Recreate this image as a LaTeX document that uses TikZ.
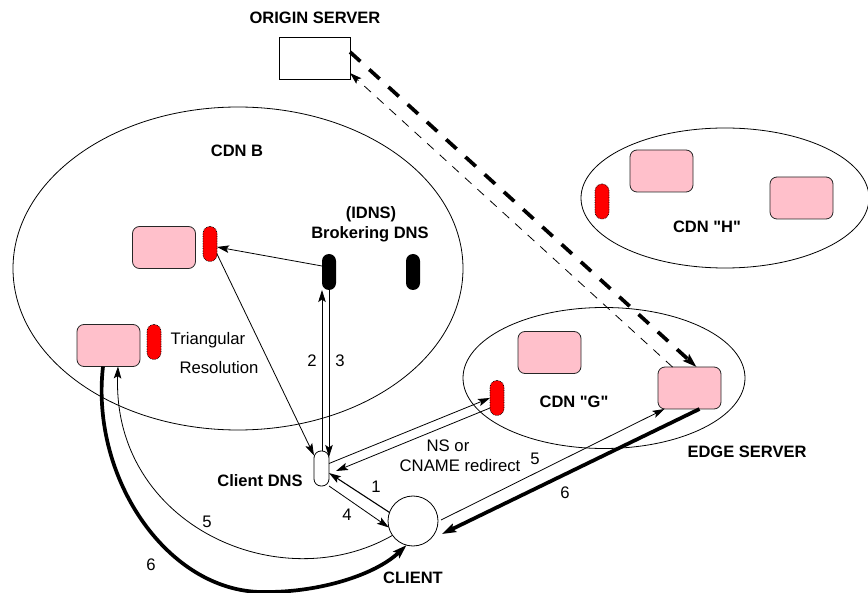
\documentclass[tikz,border=0pt]{standalone}
\usepackage{fontspec}
\setmainfont{Liberation Sans}
\newfontfamily\labelfont{Liberation Sans}
\usetikzlibrary{arrows.meta,shapes.geometric}
\definecolor{pinkbox}{HTML}{FFC0CB}
\tikzset{
  x=1pt,y=-1pt,
  every node/.style={font=\labelfont\fontsize{16.7}{19}\selectfont,inner sep=0pt,outer sep=0pt},
  boldlabel/.style={font=\labelfont\fontsize{16.5}{19}\selectfont\bfseries},
  cloud/.style={ellipse,draw,line width=0.8pt},
  pinkserver/.style={draw=black!85,line width=0.8pt,fill=pinkbox,rounded corners=7pt,minimum width=63pt,minimum height=42pt},
  redpill/.style={draw=black,densely dotted,line width=0.7pt,fill=red,rounded corners=7pt,minimum width=14pt,minimum height=35pt},
  blackpill/.style={fill=black,rounded corners=7pt,minimum width=14pt,minimum height=36pt},
  conn/.style={line width=0.8pt,-{Stealth[length=12pt,width=7.5pt,inset=2.5pt]}},
  heavy/.style={line width=3.7pt,-{Stealth[length=14pt,width=9pt,inset=2.5pt]}},
  thickdash/.style={line width=3.7pt,dash pattern=on 14pt off 12pt,-{Stealth[length=14pt,width=9pt,inset=2.5pt]}},
  thindash/.style={line width=0.8pt,dash pattern=on 9pt off 8pt,-{Stealth[length=12pt,width=7.5pt,inset=2.5pt]}},
}
\begin{document}
\begin{tikzpicture}
\useasboundingbox (0,0) rectangle (868,593);
% clouds
\node[cloud,minimum width=450pt,minimum height=323pt] (cdnb) at (238,268.5) {};
\node[cloud,minimum width=288pt,minimum height=140pt] (cdnh) at (725,198) {};
\node[cloud,minimum width=282pt,minimum height=141pt] (cdng) at (604,378) {};
% servers
\node[draw,line width=0.8pt,minimum width=71pt,minimum height=42pt] (origin) at (314.5,58) {};
\node[pinkserver] (b1) at (164,247.5) {};
\node[pinkserver] (b2) at (108.5,345.5) {};
\node[pinkserver] (g1) at (549.5,352.5) {};
\node[pinkserver] (edge) at (689.5,388) {};
\node[pinkserver] (h1) at (661.5,171) {};
\node[pinkserver] (h2) at (801.5,198) {};
% pills
\node[redpill] (rb1) at (210,244) {};
\node[redpill] (rb2) at (154,342) {};
\node[redpill] (rg) at (497,398) {};
\node[redpill] (rh) at (602,201.5) {};
\node[blackpill] (dnsa) at (329,272) {};
\node[blackpill] (dnsb) at (413,272) {};
\node[draw,line width=0.8pt,fill=white,rounded corners=7pt,minimum width=15pt,minimum height=35pt] (cdns) at (321.5,468.5) {};
\node[circle,draw,line width=0.8pt,fill=white,minimum size=50pt] (client) at (413,521) {};
% connectors
\draw[thickdash] ([yshift=-15]origin.north east) -- ([xshift=7]edge.north);
\draw[thindash] ([xshift=-17]edge.north) -- ([yshift=6]origin.south east);
\draw[conn] ([yshift=6]dnsa.west) -- ([yshift=-3]rb1.east);
\draw[conn] ([yshift=-10]rb1.east) -- ([yshift=13]cdns.west);
\draw[conn] ([xshift=0.5]cdns.north) -- ([xshift=-7]dnsa.south);
\draw[conn] (dnsa.south) -- ([yshift=-6]cdns.north -| dnsa.south);
\draw[conn] ([yshift=5]cdns.east) -- (rg.west);
\draw[conn] ([yshift=-10]rg.west) -- ([xshift=7,yshift=-2.5]cdns.east);
\draw[conn,line width=1.1pt] (client.160) -- ([yshift=-4.5]cdns.east);
\draw[conn] (cdns.south east) -- (client.195);
\draw[conn] (client.east) ++(3,-1) -- ([xshift=-25]edge.south);
\draw[heavy] ([xshift=10]edge.south) -- ([xshift=4,yshift=-13]client.east);
\draw[conn] (client.215) .. controls (280,600) and (112,525) .. ([xshift=9.5]b2.south);
\draw[heavy] ([xshift=-5.5]b2.south) .. controls (90,480) and (170,595) .. (267,592) .. controls (320,592) and (375,575) .. (client.255);
% labels
\node[boldlabel] (tor) at (315,18) {ORIGIN SERVER};
\node[boldlabel] (tb) at (237,151) {CDN B};
\node[boldlabel] (th) at (707,227) {CDN "H"};
\node[boldlabel] (tg) at (574,402) {CDN "G"};
\node[boldlabel] (ti) at (371,214) {(IDNS)};
\node[boldlabel] (tbr) at (370,234) {Brokering DNS};
\node[boldlabel] (tcd) at (260,481) {Client DNS};
\node[boldlabel] (tes) at (747,452) {EDGE SERVER};
\node[boldlabel] (tcl) at (413,578) {CLIENT};
\node (ttr) at (208,340) {Triangular};
\node (tre) at (219,368) {Resolution};
\node (tns) at (448,446) {NS or};
\node (tcn) at (460,466) {CNAME redirect};
\node (n2) at (312,361) {2};
\node (n3) at (340,361) {3};
\node (n1) at (376,487) {1};
\node (n4) at (347,515) {4};
\node (n5r) at (535,459) {5};
\node (n6r) at (565,493) {6};
\node (n5l) at (207,522) {5};
\node (n6l) at (151,565) {6};
\end{tikzpicture}
\end{document}
